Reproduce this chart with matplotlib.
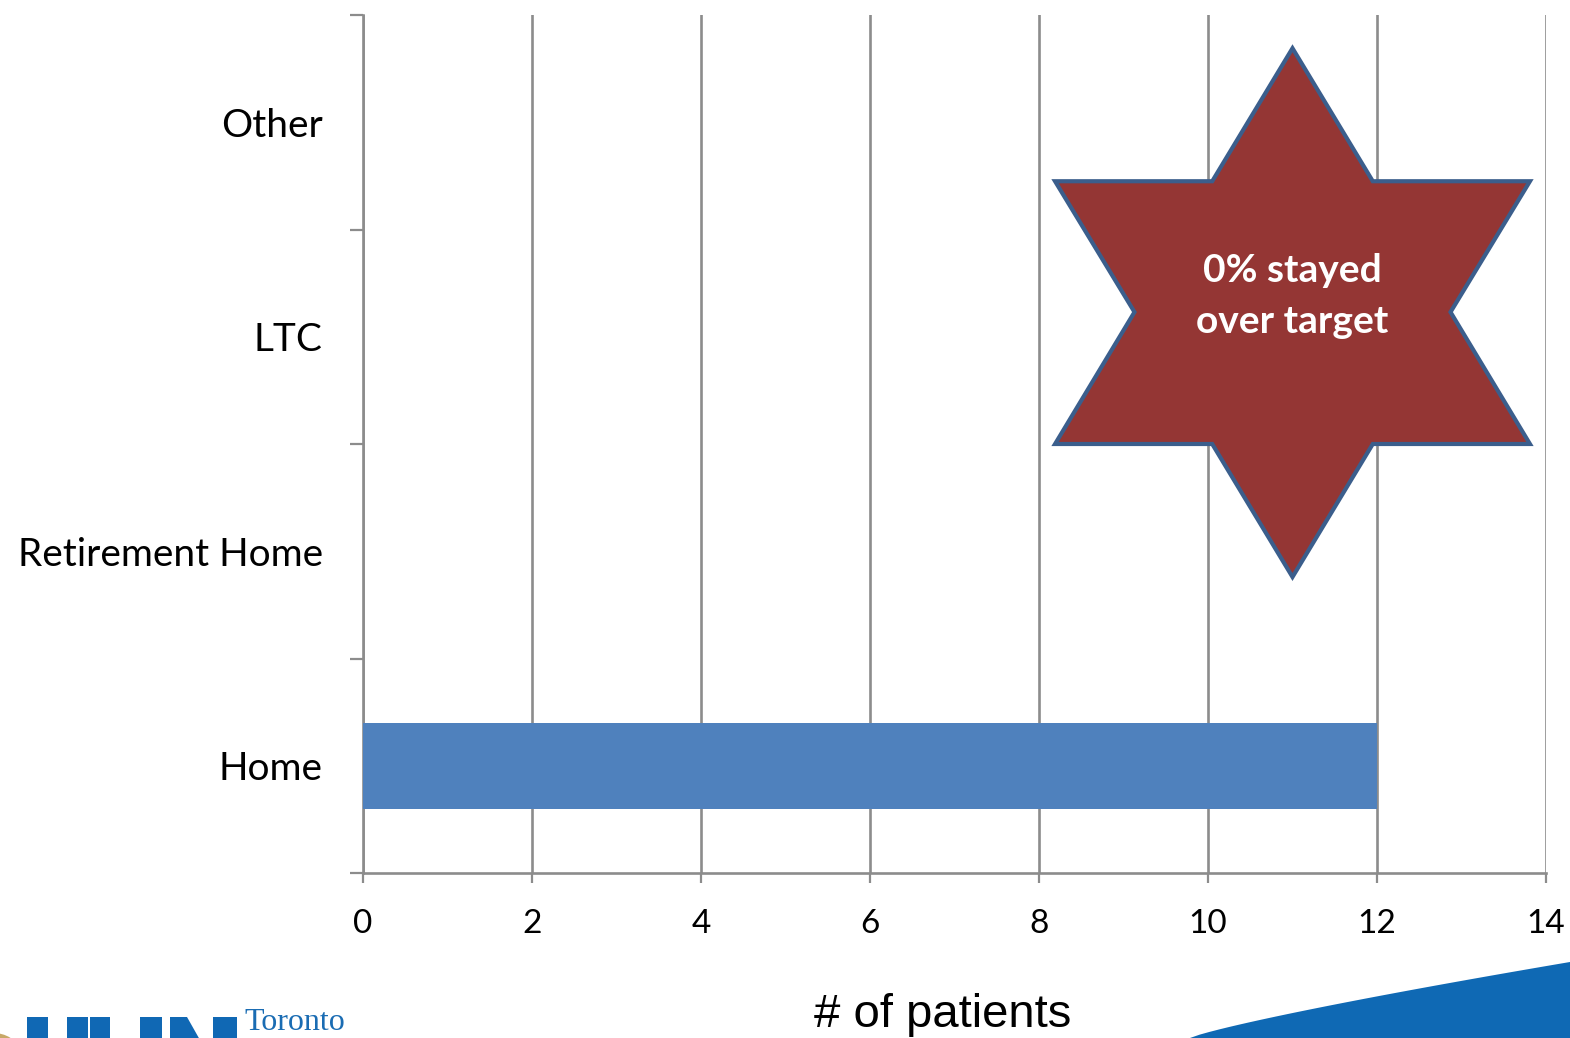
import matplotlib

matplotlib.use("Agg")
import matplotlib.pyplot as plt
import numpy as np
from matplotlib.patches import Polygon, Circle

# data
categories = ["Home", "Retirement Home", "LTC", "Other"]
patients = [12, 0, 0, 0]
x_ticks = [0, 2, 4, 6, 8, 10, 12, 14]
star_text = "0% stayed\nover target"

W, H = 1570, 1038
fig = plt.figure(figsize=(W / 100, H / 100), dpi=100)
ax = fig.add_axes([363 / W, 1 - 873 / H, (1546 - 363) / W, (873 - 15) / H])

grey = "#8c8c8c"
label_font = "Lato"

ypos = np.arange(len(categories))
ax.barh(ypos, patients, height=0.4, color="#4f81bd", zorder=3)

ax.set_xlim(0, 14)
ax.set_ylim(-0.5, len(categories) - 0.5)

# x axis
ax.set_xticks(x_ticks)
ax.set_xticklabels([str(t) for t in x_ticks], fontsize=24, family=label_font)
ax.tick_params(axis="x", direction="out", length=7, width=1.6, color=grey, pad=19)
ax.grid(axis="x", color=grey, linewidth=1.9, zorder=1)

# y axis: labels at centers, tick marks at boundaries
ax.set_yticks(ypos)
ax.set_yticklabels(categories, fontsize=28, family=label_font)
ax.tick_params(axis="y", which="major", length=0, pad=29)
ax.set_yticks(np.arange(-0.5, len(categories), 1), minor=True)
ax.tick_params(axis="y", which="minor", direction="out", length=9.5, width=1.6, color=grey)

for side in ["top", "right"]:
    ax.spines[side].set_visible(False)
for side in ["left", "bottom"]:
    ax.spines[side].set_color(grey)
    ax.spines[side].set_linewidth(1.9)

ax.set_xlabel("# of patients", fontsize=34, family="Liberation Sans", va="baseline")
ax.xaxis.set_label_coords(0.49, -(1027 - 873) / 858)

# six-pointed star callout
cx, cy = 11.0, 2.115
star = [
    (cx, cy + 1.23),
    (cx + 0.95, cy + 0.61),
    (cx + 2.81, cy + 0.61),
    (cx + 1.87, cy),
    (cx + 2.81, cy - 0.615),
    (cx + 0.95, cy - 0.615),
    (cx, cy - 1.235),
    (cx - 0.95, cy - 0.615),
    (cx - 2.81, cy - 0.615),
    (cx - 1.87, cy),
    (cx - 2.81, cy + 0.61),
    (cx - 0.95, cy + 0.61),
]
ax.add_patch(Polygon(star, closed=True, facecolor="#943634", edgecolor="#3b5e8c",
                     linewidth=3, joinstyle="miter", zorder=5, clip_on=False))
ax.text(cx, 2.19, star_text, ha="center", va="center", color="white",
        fontsize=28, fontweight="bold", family=label_font, linespacing=1.52, zorder=6)

# logo in the lower left corner (blocks of the UHN mark, cut by the page edge)
def px(x, y):
    return (x / W, 1 - y / H)

logo_blue = "#1068b4"
blocks = [
    [(27, 1017), (48, 1017), (48, 1040), (27, 1040)],
    [(67, 1017), (88, 1017), (88, 1040), (67, 1040)],
    [(90, 1017), (110, 1017), (110, 1040), (90, 1040)],
    [(140, 1017), (162, 1017), (162, 1040), (140, 1040)],
    [(170, 1017), (187, 1017), (200, 1040), (170, 1040)],
    [(213, 1017), (237, 1017), (237, 1040), (213, 1040)],
]
for b in blocks:
    fig.patches.append(Polygon([px(x, y) for x, y in b], closed=True,
                               transform=fig.transFigure, facecolor=logo_blue,
                               edgecolor="none"))
fig.text(244 / W, 1 - 1037 / H, "Toronto", color="#1a6cb3", fontsize=23,
         family="Liberation Serif", ha="left", va="bottom")
fig.patches.append(Circle(px(-8, 1050), 26 / W, transform=fig.transFigure,
                          facecolor="#c8a868", edgecolor="none"))

# blue swoosh in the lower right corner
sx = np.linspace(1190, 1570, 40)
sy = 1038 - 76 * ((sx - 1190) / 380) ** 0.85
pts = [px(x, y) for x, y in zip(sx, sy)] + [(1.0, 0.0), (1190 / W, 0.0)]
fig.patches.append(Polygon(pts, closed=True, transform=fig.transFigure,
                           facecolor="#0f69b4", edgecolor="none"))

fig.savefig("out.png", dpi=100)
